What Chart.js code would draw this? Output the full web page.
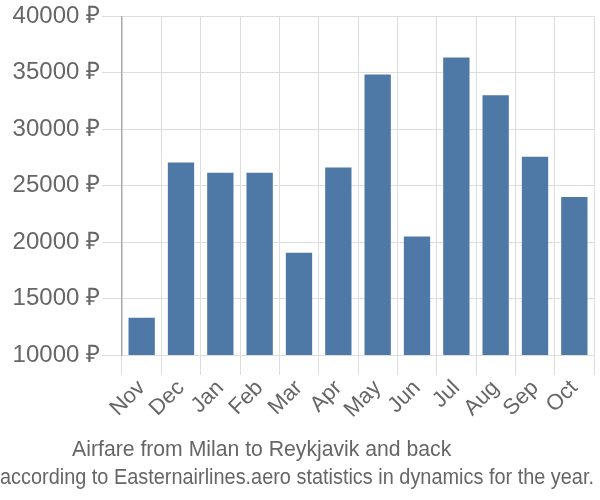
<!DOCTYPE html>
<html>
<head>
<meta charset="utf-8">
<script src="https://cdn.jsdelivr.net/npm/chart.js@4"></script>
<style>
html,body{margin:0;padding:0;background:#fff;}
#wrap{width:600px;height:500px;position:relative;}
</style>
</head>
<body>
<div id="wrap"><canvas id="c"></canvas></div>
<script>
const categories = ["Nov","Dec","Jan","Feb","Mar","Apr","May","Jun","Jul","Aug","Sep","Oct"];
const prices = [13400, 27150, 26250, 26250, 19150, 26700, 34950, 20600, 36450, 33100, 27650, 24100];
const yTicks = [10000, 15000, 20000, 25000, 30000, 35000, 40000];
const titleText = "Airfare from Milan to Reykjavik and back            ";
const subtitleText = "according to Easternairlines.aero statistics in dynamics for the year.";

Chart.defaults.font.family = "'Liberation Sans', Arial, sans-serif";
Chart.defaults.color = "#666";

new Chart(document.getElementById('c'), {
  type: 'bar',
  data: {
    labels: categories,
    datasets: [{
      data: prices,
      backgroundColor: '#4e79a7',
      borderColor: 'rgba(255,255,255,0.35)',
      borderWidth: 1
    }]
  },
  options: {
    responsive: true,
    maintainAspectRatio: false,
    animation: false,
    layout: { padding: { top: 0, right: 6, left: 0, bottom: 0 } },
    plugins: {
      legend: { display: false },
      tooltip: { enabled: false },
      title: {
        display: true, text: titleText, position: 'bottom', weight: 1000,
        font: { size: 21.2, weight: 'normal' }, color: '#666',
        padding: { top: 14, bottom: 2 }
      },
      subtitle: {
        display: true, text: subtitleText, position: 'bottom', weight: 3000,
        font: { size: 22, weight: 'normal' }, color: '#666',
        padding: { top: 0, bottom: 9 }
      }
    },
    scales: {
      x: {
        grid: { color: '#ddd', tickLength: 20, offset: true },
        border: { color: '#ddd' },
        ticks: { font: { size: 22 }, color: '#666', maxRotation: 45, minRotation: 45, padding: 0, autoSkip: false }
      },
      y: {
        min: 10000, max: 40000,
        afterBuildTicks: (axis) => { axis.ticks = yTicks.map(v => ({ value: v })); },
        afterFit: (axis) => { axis.width = 122; },
        grid: { color: '#ddd', tickLength: 20 },
        border: { color: '#aaa', width: 1.5 },
        ticks: { font: { size: 24 }, color: '#666', padding: 2, callback: (v) => v + ' ₽' }
      }
    }
  }
});
</script>
</body>
</html>
